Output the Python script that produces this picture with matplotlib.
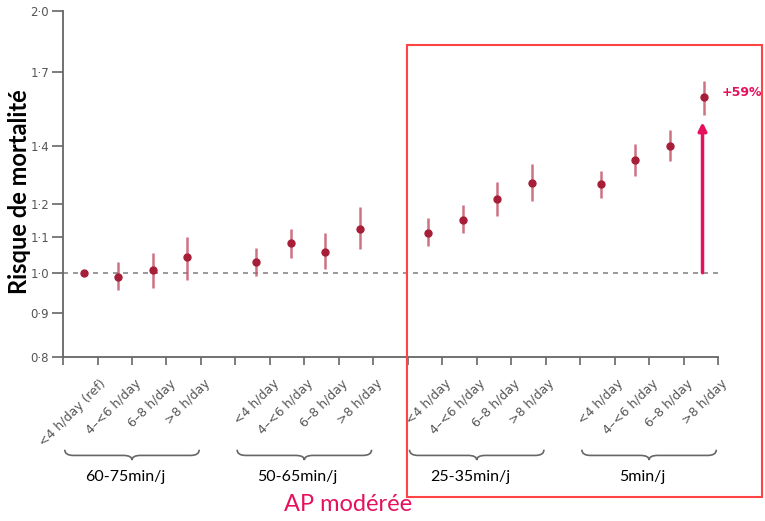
import matplotlib.pyplot as plt
import numpy as np
from matplotlib.path import Path
from matplotlib.patches import PathPatch, Rectangle
import matplotlib.transforms as mtransforms

# Data (hazard ratio with 95% CI)
groups = ['60-75min/j', '50-65min/j', '25-35min/j', '5min/j']
sitting = ['<4 h/day', '4–<6 h/day', '6–8 h/day', '>8 h/day']
hr = [1.00, 0.99, 1.008, 1.043,
      1.029, 1.081, 1.057, 1.123,
      1.112, 1.151, 1.216, 1.268,
      1.265, 1.348, 1.400, 1.592]
ci_low = [1.00, 0.955, 0.96, 0.98,
          0.992, 1.041, 1.01, 1.065,
          1.074, 1.111, 1.161, 1.208,
          1.219, 1.293, 1.343, 1.519]
ci_high = [1.00, 1.03, 1.055, 1.10,
           1.069, 1.124, 1.111, 1.189,
           1.155, 1.196, 1.271, 1.335,
           1.31, 1.406, 1.46, 1.662]
yticks = [0.8, 0.9, 1.0, 1.1, 1.2, 1.4, 1.7, 2.0]

pink = '#e6115c'
dot = '#a61e38'
bar = '#c45a6c'

# x slots: 4 points per group, one empty slot between groups
xs = []
for g in range(len(groups)):
    xs += [g * 5 + k for k in range(4)]
xs = np.array(xs)
hr = np.array(hr)
lo = np.array(ci_low)
hi = np.array(ci_high)

fig = plt.figure(figsize=(7.65, 5.21), dpi=100)
ax = fig.add_axes([0.0824, 0.3148, 0.8562, 0.6641])
ax.set_yscale('log')
ax.set_ylim(0.8, 2.0)
ax.set_xlim(-0.6, 18.4)

ax.axhline(1.0, color='#888888', lw=1.2, ls=(0, (3, 3)), zorder=1)
ax.vlines(xs[1:], lo[1:], hi[1:], color=bar, lw=1.8, alpha=0.85, zorder=2)
ax.plot(xs, hr, 'o', color=dot, ms=5, zorder=3)

# axes styling
for s in ['top', 'right']:
    ax.spines[s].set_visible(False)
for s in ['left', 'bottom']:
    ax.spines[s].set_color('#666666')
    ax.spines[s].set_linewidth(1.3)
ax.set_yticks(yticks)
ax.set_yticklabels([f'{v:.1f}'.replace('.', '·') for v in yticks])
ax.yaxis.set_minor_locator(plt.NullLocator())
ax.tick_params(axis='y', length=8, width=1.2, color='#666666',
               labelsize=8.5, labelcolor='#555555', pad=2)
ax.set_xticks(np.arange(-0.6, 18.5, 1.0))
ax.set_xticklabels([])
ax.tick_params(axis='x', length=6, width=1.2, color='#666666')

fig.text(0.026, 0.633, 'Risque de mortalité', fontsize=17, fontweight='bold',
         fontfamily='Lato', rotation=90, ha='center', va='center')

# rotated category labels
trans = mtransforms.blended_transform_factory(ax.transData, ax.transAxes)
for i, x in enumerate(xs):
    lab = sitting[i % 4]
    if i == 0:
        lab = '<4 h/day (ref)'
    ax.text(x + 0.6, -0.072, lab, transform=trans, rotation=45,
            rotation_mode='anchor', ha='right', va='center',
            fontsize=9, color='#555555', clip_on=False)

# braces and group labels
def brace(x0, x1, ytop, depth):
    xc = (x0 + x1) / 2
    ym = ytop - depth * 0.55
    yb = ytop - depth
    r = 0.25
    verts = [(x0, ytop), (x0, ym), (x0 + r, ym),
             (xc - r, ym), (xc, ym), (xc, yb),
             (xc, ym), (xc + r, ym),
             (x1 - r, ym), (x1, ym), (x1, ytop)]
    codes = [Path.MOVETO, Path.CURVE3, Path.CURVE3,
             Path.LINETO, Path.CURVE3, Path.CURVE3,
             Path.CURVE3, Path.CURVE3,
             Path.LINETO, Path.CURVE3, Path.CURVE3]
    p = PathPatch(Path(verts, codes), transform=trans, fill=False,
                  edgecolor='#666666', lw=1.2, clip_on=False)
    ax.add_patch(p)

for g, name in enumerate(groups):
    x0 = g * 5 - 0.55
    x1 = g * 5 + 3.35
    brace(x0, x1, -0.268, 0.03)
    ax.text((x0 + x1) / 2 - 0.2, -0.347, name, transform=trans,
            ha='center', va='center', fontsize=11.5, fontfamily='Lato',
            color='black', clip_on=False)

# highlight arrow and label
ax.annotate('', xy=(xs[-1] - 0.05, 1.49), xytext=(xs[-1] - 0.05, 1.0),
            arrowprops=dict(arrowstyle='-|>', color=pink, lw=2.5,
                            mutation_scale=12, shrinkA=0, shrinkB=0),
            zorder=4)
ax.text(xs[-1] + 0.5, 1.61, '+59%', color=pink, fontsize=9,
        fontweight='bold', ha='left', va='center', clip_on=False)

fig.patches.append(Rectangle((0.532, 0.046), 0.464, 0.8676,
                             transform=fig.transFigure, fill=False,
                             edgecolor='#ff4444', lw=1.5))
fig.text(0.455, 0.031, 'AP modérée', color=pink, fontsize=17,
         fontfamily='Lato', ha='center', va='center')

fig.savefig('out.png', dpi=100)
